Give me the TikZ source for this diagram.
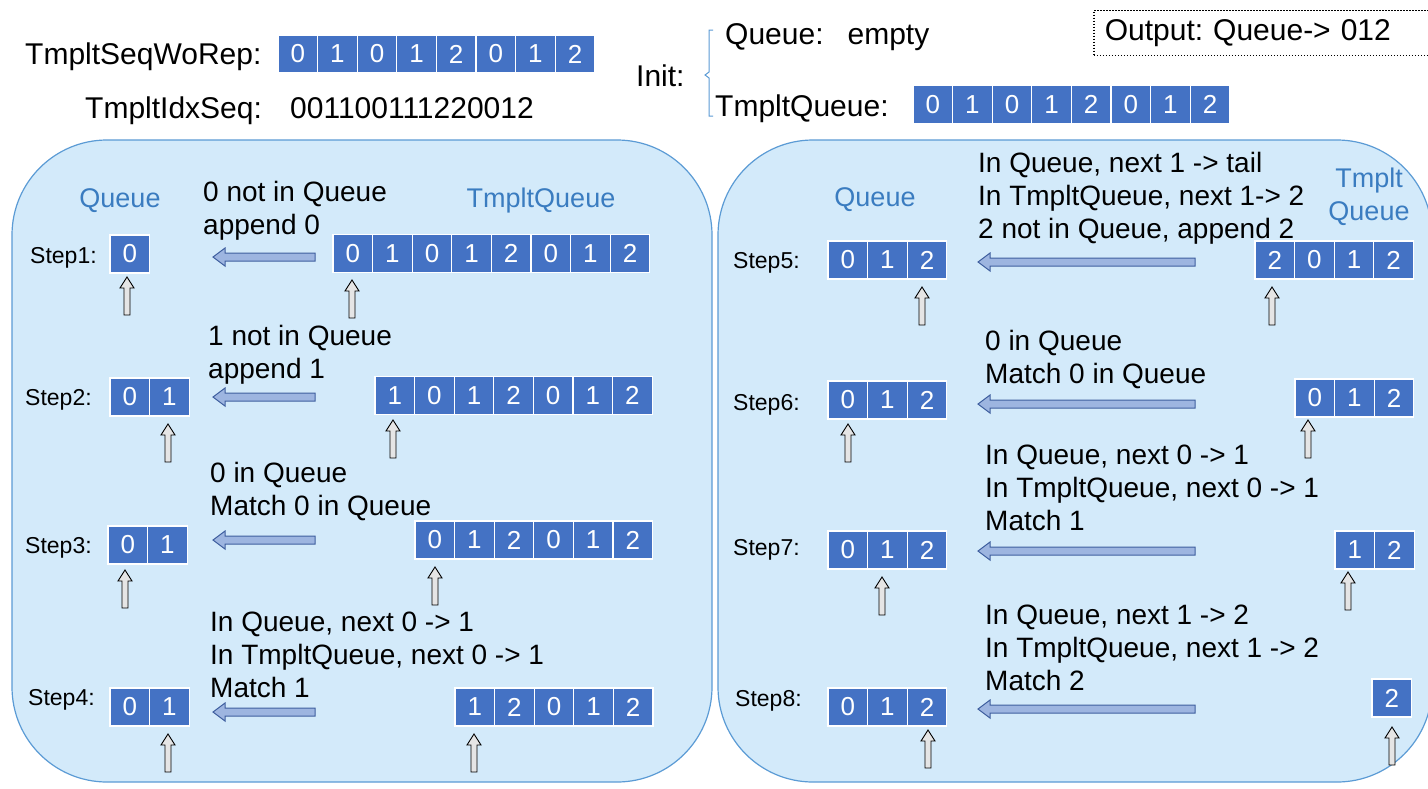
\documentclass[tikz,border=0pt]{standalone}
\usepackage{fontspec}
\setmainfont{Liberation Sans}
\definecolor{cellblue}{HTML}{4472C4}
\definecolor{panelblue}{HTML}{D3EAFA}
\definecolor{edgeblue}{HTML}{5B9BD5}
\definecolor{labelblue}{HTML}{3A7CC0}
\definecolor{arrowblue}{HTML}{9DB5E0}
\definecolor{arrowedge}{HTML}{3F5F9F}
\begin{document}
\begin{tikzpicture}
  [x=1pt,y=-1pt,
  cell/.style={fill=cellblue, draw=white, line width=1.2pt, text=white,
    minimum width=39.6pt, minimum height=38pt, inner sep=0pt,
    font=\fontsize{26}{26}\selectfont},
  head/.style={anchor=base west, inner sep=0pt, font=\fontsize{30}{30}\selectfont},
  note/.style={anchor=north west, align=left, inner sep=0pt,
    font=\fontsize{28}{33}\selectfont},
  steplabel/.style={anchor=base west, inner sep=0pt, font=\fontsize{23}{23}\selectfont},
  colname/.style={text=labelblue, align=center, inner sep=0pt,
    font=\fontsize{27}{33}\selectfont},
  panel/.style={fill=panelblue, draw=edgeblue, line width=1.2pt, rounded corners=95pt},
  pics/moveleft/.style={code={
    \draw[fill=arrowblue, draw=arrowedge, line width=1pt]
      (0,-4) -- (-#1+12,-4) -- (-#1+12,-9) -- (-#1,0) -- (-#1+12,9)
      -- (-#1+12,4) -- (0,4) -- cycle;}},
  pics/pointer/.style={code={
    \draw[fill=gray!20, line width=0.9pt]
      (-3,0) -- (-3,-27) -- (-7,-27) -- (0,-38) -- (7,-27) -- (3,-27)
      -- (3,0) -- cycle;}}]
  \useasboundingbox[fill=white] (0,0) rectangle (1428,788);
  %Kopf
  \node[head] (seqlabel) at (25,64) {TmpltSeqWoRep:};
  \foreach \v [count=\i from 0] in {0,1,0,1,2,0,1,2}
    \node[cell] (seq-\i) at ({297.8+\i*39.6},54) {\v};
  \node[head] (idxlabel) at (85,118) {TmpltIdxSeq:};
  \node[head] (idxseq) at (290,118) {001100111220012};
  \node[head] (init) at (636,86) {Init:};
  \draw[edgeblue, line width=1pt] (713,30) -- (709,30) -- (709,72) -- (705,75)
    -- (709,78) -- (709,116) -- (713,116);
  \node[head] (initqueue) at (725,44) {Queue:\hspace{24pt}empty};
  \node[head] (inittq) at (715,116) {TmpltQueue:};
  \foreach \v [count=\i from 0] in {0,1,0,1,2,0,1,2}
    \node[cell] (init-\i) at ({932.8+\i*39.6},104.5) {\v};
  \node[draw, dash pattern=on 1.6pt off 1.4pt, line width=1.6pt, anchor=west,
    minimum height=45pt, text width=330pt, align=left, inner xsep=11pt,
    font=\fontsize{30}{30}\selectfont] (output) at (1093,33) {Output:\ Queue-> 012};
  %linkes Feld
  \draw[panel] (12,140) rectangle (712,782);
  \node[colname] (lq) at (120,201) {Queue};
  \node[colname] (ltq) at (541,201) {TmpltQueue};
  %Step1
  \node[steplabel] (s1) at (30,263) {Step1:};
  \foreach \v [count=\i from 0] in {0}
    \node[cell] (q1-\i) at ({129.8+\i*39.6},254) {\v};
  \foreach \v [count=\i from 0] in {0,1,0,1,2,0,1,2}
    \node[cell] (t1-\i) at ({352.8+\i*39.6},253.5) {\v};
  \node[note] (n1) at (203,181) {0 not in Queue\\append 0};
  \pic at (315,257) {moveleft=102};
  \pic at (127,315) {pointer};
  \pic at (352,318) {pointer};
  %Step2
  \node[steplabel] (s2) at (25,405) {Step2:};
  \foreach \v [count=\i from 0] in {0,1}
    \node[cell] (q2-\i) at ({129.8+\i*39.6},397) {\v};
  \foreach \v [count=\i from 0] in {1,0,1,2,0,1,2}
    \node[cell] (t2-\i) at ({394.8+\i*39.6},395.5) {\v};
  \node[note] (n2) at (208,325) {1 not in Queue\\append 1};
  \pic at (315,397) {moveleft=102};
  \pic at (168,462) {pointer};
  \pic at (393,458) {pointer};
  %Step3
  \node[steplabel] (s3) at (25,553) {Step3:};
  \foreach \v [count=\i from 0] in {0,1}
    \node[cell] (q3-\i) at ({127.8+\i*39.6},545) {\v};
  \foreach \v [count=\i from 0] in {0,1,2,0,1,2}
    \node[cell] (t3-\i) at ({434.8+\i*39.6},540) {\v};
  \node[note] (n3) at (210,462) {0 in Queue\\Match 0 in Queue};
  \pic at (315,540) {moveleft=102};
  \pic at (125,608) {pointer};
  \pic at (435,605) {pointer};
  %Step4
  \node[steplabel] (s4) at (28,705) {Step4:};
  \foreach \v [count=\i from 0] in {0,1}
    \node[cell] (q4-\i) at ({129.8+\i*39.6},707) {\v};
  \foreach \v [count=\i from 0] in {1,2,0,1,2}
    \node[cell] (t4-\i) at ({474.8+\i*39.6},707) {\v};
  \node[note] (n4) at (210,612) {In Queue, next 0 -> 1\\In TmpltQueue, next 0 -> 1\\Match 1};
  \pic at (315,712) {moveleft=102};
  \pic at (168,772) {pointer};
  \pic at (474,772) {pointer};
  %rechtes Feld
  \draw[panel] (718,140) rectangle (1432,782);
  \node[colname] (rq) at (875,200) {Queue};
  \node[colname] (rtq) at (1369,197) {Tmplt\\Queue};
  %Step5
  \node[steplabel] (s5) at (733,268) {Step5:};
  \foreach \v [count=\i from 0] in {0,1,2}
    \node[cell] (q5-\i) at ({847.8+\i*39.6},260) {\v};
  \foreach \v [count=\i from 0] in {2,0,1,2}
    \node[cell] (t5-\i) at ({1274.8+\i*39.6},260) {\v};
  \node[note] (n5) at (978,152) {In Queue, next 1 -> tail\\In TmpltQueue, next 1-> 2\\2 not in Queue, append 2};
  \pic at (1195,262) {moveleft=217};
  \pic at (922,325) {pointer};
  \pic at (1272,325) {pointer};
  %Step6
  \node[steplabel] (s6) at (733,410) {Step6:};
  \foreach \v [count=\i from 0] in {0,1,2}
    \node[cell] (q6-\i) at ({847.8+\i*39.6},400) {\v};
  \foreach \v [count=\i from 0] in {0,1,2}
    \node[cell] (t6-\i) at ({1314.8+\i*39.6},398) {\v};
  \node[note] (n6) at (985,330) {0 in Queue\\Match 0 in Queue};
  \pic at (1195,404) {moveleft=217};
  \pic at (848,462) {pointer};
  \pic at (1308,458) {pointer};
  %Step7
  \node[steplabel] (s7) at (733,555) {Step7:};
  \foreach \v [count=\i from 0] in {0,1,2}
    \node[cell] (q7-\i) at ({847.8+\i*39.6},550) {\v};
  \foreach \v [count=\i from 0] in {1,2}
    \node[cell] (t7-\i) at ({1354.8+\i*39.6},550) {\v};
  \node[note] (n7) at (985,445) {In Queue, next 0 -> 1\\In TmpltQueue, next 0 -> 1\\Match 1};
  \pic at (1195,551) {moveleft=217};
  \pic at (882,615) {pointer};
  \pic at (1348,610) {pointer};
  %Step8
  \node[steplabel] (s8) at (735,706) {Step8:};
  \foreach \v [count=\i from 0] in {0,1,2}
    \node[cell] (q8-\i) at ({847.8+\i*39.6},707) {\v};
  \foreach \v [count=\i from 0] in {2}
    \node[cell] (t8-\i) at ({1391.8+\i*39.6},698) {\v};
  \node[note] (n8) at (985,605) {In Queue, next 1 -> 2\\In TmpltQueue, next 1 -> 2\\Match 2};
  \pic at (1195,709) {moveleft=217};
  \pic at (928,768) {pointer};
  \pic at (1392,765) {pointer};
\end{tikzpicture}
\end{document}
